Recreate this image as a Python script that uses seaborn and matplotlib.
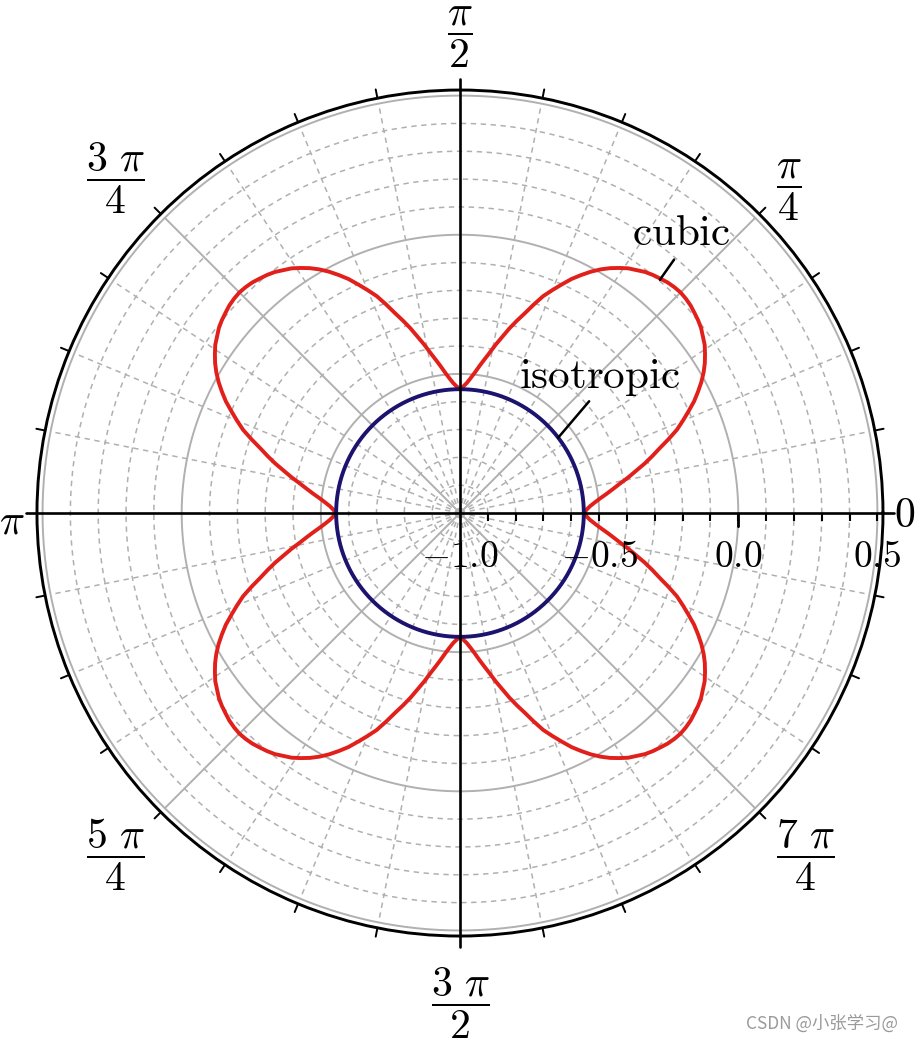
import numpy as np
import matplotlib
matplotlib.use("Agg")
import matplotlib.pyplot as plt
import seaborn as sns

sns.set_theme(style="white")
plt.rcParams["mathtext.fontset"] = "cm"
plt.rcParams["font.family"] = ["DejaVu Sans"]

# Values: one octant (0..45 deg), the rest follows from cubic symmetry
cubic_deg = np.arange(0, 45.1, 1.5)
cubic_r = np.array([-0.554, -0.545, -0.532, -0.514, -0.493, -0.468, -0.442, -0.414,
                    -0.381, -0.349, -0.313, -0.279, -0.245, -0.205, -0.165, -0.133,
                    -0.101, -0.068, -0.040, -0.013, 0.011, 0.032, 0.050, 0.067,
                    0.079, 0.092, 0.101, 0.108, 0.115, 0.119, 0.121])
iso_r = -0.555

r_ticks = [-1.0, -0.5, 0.0, 0.5]
r_labels = ["$-1.0$", "$-0.5$", "$0.0$", "$0.5$"]
theta_labels = [r"$0$", r"$\dfrac{\pi}{4}$", r"$\dfrac{\pi}{2}$", r"$\dfrac{3\ \pi}{4}$",
                r"$\pi$", r"$\dfrac{5\ \pi}{4}$", r"$\dfrac{3\ \pi}{2}$", r"$\dfrac{7\ \pi}{4}$"]

W, H = 915, 1042
R_MIN, R_MAX = -1.0, 0.52


def fig_xy(x, y):
    return x / W, 1 - y / H


# build the full curve from the octant
q_deg = np.concatenate([cubic_deg, 90 - cubic_deg[::-1][1:]])
q_r = np.concatenate([cubic_r, cubic_r[::-1][1:]])
full_deg = np.concatenate([q_deg[:-1] + 90 * k for k in range(4)] + [[360]])
full_r = np.concatenate([q_r[:-1]] * 4 + [[q_r[0]]])

fig = plt.figure(figsize=(W / 100, H / 100), dpi=100)
ax = fig.add_axes([0.0404, 0.1017, 0.9246, 0.8119], projection="polar")
ax.set_ylim(R_MIN, R_MAX)
ax.grid(False)
ax.set_xticks([])
ax.set_yticks([])
ax.spines["polar"].set_color("black")
ax.spines["polar"].set_linewidth(2.1)

circ = np.linspace(0, 2 * np.pi, 721)
grid_col = "#b0b0b0"
dash = (0, (3.5, 3))

# dashed circles every 0.1, solid every 0.5
for rr in np.round(np.arange(-0.9, 0.45, 0.1), 2):
    if abs(rr + 0.5) < 1e-6 or abs(rr) < 1e-6:
        continue
    ax.plot(circ, np.full_like(circ, rr), color=grid_col, lw=1.1, ls=dash, zorder=1)
for rr in [-0.5, 0.0, 0.5]:
    ax.plot(circ, np.full_like(circ, rr), color=grid_col, lw=1.4, zorder=1)

# spokes
for k in range(32):
    a = np.deg2rad(k * 11.25)
    if k % 8 == 0:
        continue
    if k % 4 == 0:
        ax.plot([a, a], [R_MIN, 0.5], color=grid_col, lw=1.4, zorder=1)
    else:
        ax.plot([a, a], [R_MIN, 0.5], color=grid_col, lw=1.1, ls=dash, zorder=1)
    # outer angular ticks
    ax.plot([a, a], [R_MAX, R_MAX + 0.032], color="black", lw=1.4, clip_on=False, zorder=4)

# curves
sns.lineplot(x=np.deg2rad(full_deg), y=full_r, ax=ax, sort=False, estimator=None,
             color="#e1201b", lw=2.8, zorder=3)
sns.lineplot(x=circ, y=np.full_like(circ, iso_r), ax=ax, sort=False, estimator=None,
             color="#1c136e", lw=2.8, zorder=3)
ax.set_xlabel("")
ax.set_ylabel("")

# black axes
for k in range(4):
    a = k * np.pi / 2
    ax.plot([a, a], [R_MIN, R_MAX + 0.04], color="black", lw=1.9, clip_on=False, zorder=4)

# radial ticks and labels along theta = 0
minor = np.round(np.arange(-0.9, 0.55, 0.1), 2)
ax.plot(np.zeros_like(minor), minor, ls="none", marker=3, ms=6, mew=1.5,
        color="black", clip_on=False, zorder=4)
ax.plot([0], [0.0], ls="none", marker=3, ms=10, mew=2, color="black", zorder=4)
for rv, lab in zip(r_ticks, r_labels):
    ax.annotate(lab, xy=(0, rv), xytext=(0, -32), textcoords="offset points",
                ha="center", va="center", fontsize=27, color="black", zorder=5)

# angle labels
label_px = [(905, 515), (789, 190), (460, 37), (115, 178),
            (12, 522), (115, 855), (460, 1003), (805, 855)]
for lab, (px, py) in zip(theta_labels, label_px):
    fig.text(*fig_xy(px, py), lab, ha="center", va="center", fontsize=30, color="black")

# curve names
ax.annotate(r"$\mathrm{cubic}$", xy=(np.deg2rad(49.4), 0.104),
            xytext=fig_xy(681, 245), textcoords="figure fraction",
            ha="center", va="baseline", fontsize=31, color="black",
            arrowprops=dict(arrowstyle="-", color="black", lw=1.8,
                            shrinkA=2, shrinkB=0, relpos=(0.47, 0)))
ax.annotate(r"$\mathrm{isotropic}$", xy=(np.deg2rad(37.5), iso_r),
            xytext=fig_xy(600, 388), textcoords="figure fraction",
            ha="center", va="baseline", fontsize=31, color="black",
            arrowprops=dict(arrowstyle="-", color="black", lw=1.8,
                            shrinkA=0, shrinkB=0, relpos=(0.45, 0)))

fig.text(*fig_xy(898, 1024), "CSDN @小张学习@", ha="right", va="center", fontsize=12.5,
         color="#9a9a9a", family=["Noto Sans CJK SC", "DejaVu Sans"])

fig.savefig("out.png", dpi=100, facecolor="white")
